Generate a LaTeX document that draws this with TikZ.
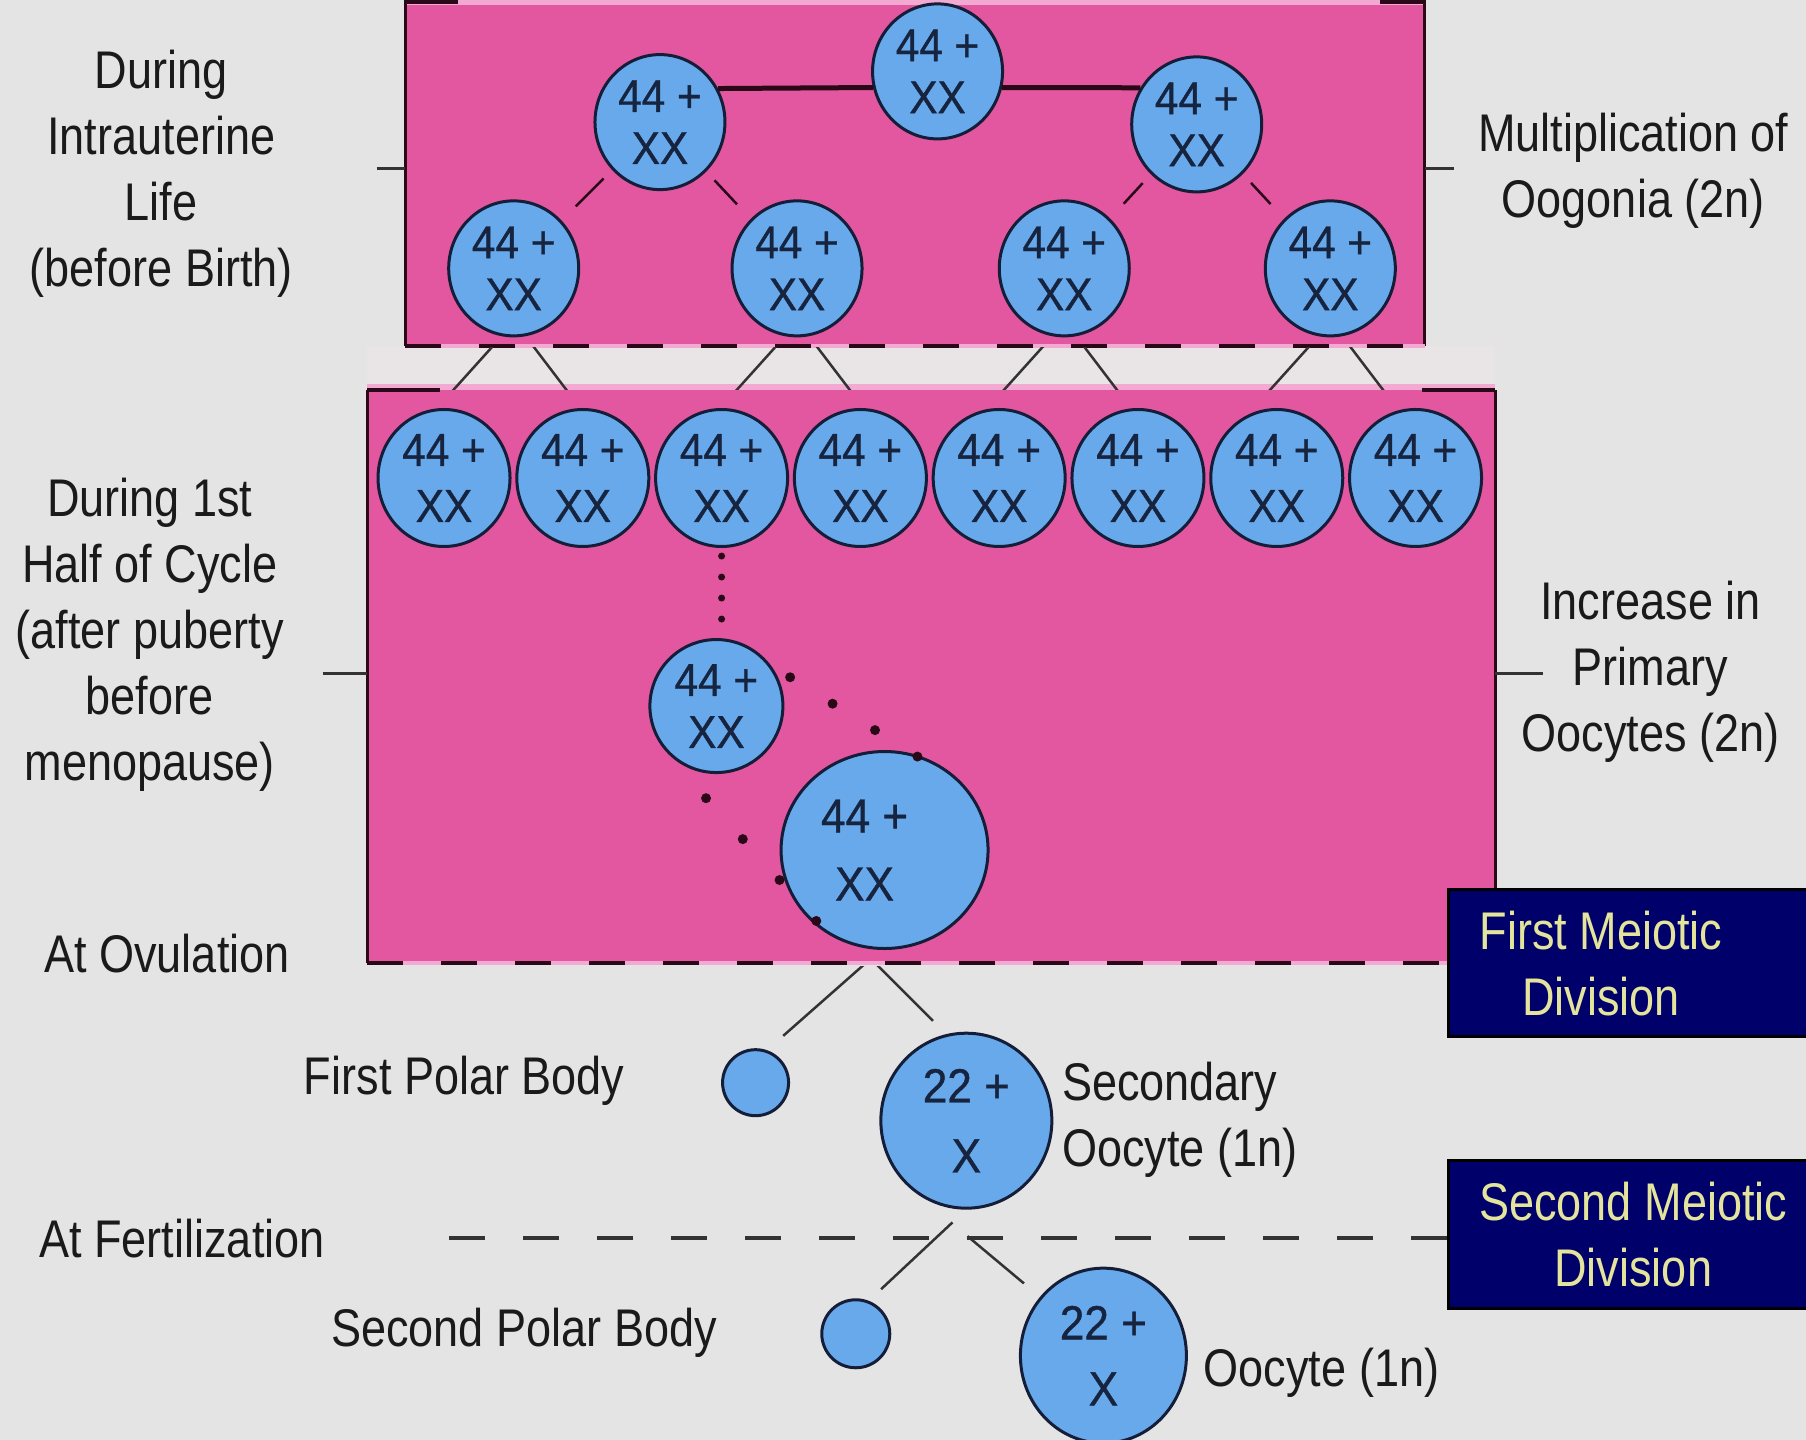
\documentclass[tikz,border=0pt]{standalone}
\usepackage{fontspec}
\setmainfont{Liberation Sans}[FakeStretch=0.85]
\newfontfamily\cellfont{Liberation Sans}[FakeBold=0.8,FakeStretch=0.92]
\usetikzlibrary{shapes.geometric,calc}
\definecolor{bgc}{HTML}{E4E4E4}
\definecolor{gapc}{HTML}{E9E5E7}
\definecolor{pinkc}{HTML}{E2579F}
\definecolor{pinklt}{HTML}{F2AAD2}
\definecolor{edgec}{HTML}{2A0818}
\definecolor{cellblue}{HTML}{68A9EC}
\definecolor{celledge}{HTML}{141E38}
\definecolor{celltext}{HTML}{16243F}
\definecolor{navyc}{HTML}{00006B}
\definecolor{yelt}{HTML}{E4E49C}
\definecolor{labeltext}{HTML}{1A1A1A}
\definecolor{linec}{HTML}{333333}
\begin{document}
\begin{tikzpicture}[x=1.1518pt,y=-1.1518pt,
  cell/.style={ellipse,draw=celledge,line width=3pt,fill=cellblue,inner sep=0pt,align=center,text=celltext,
    font=\cellfont\fontsize{46}{52}\selectfont},
  treec/.style={cell,minimum width=130pt,minimum height=135pt},
  rowc/.style={cell,minimum width=132pt,minimum height=137pt,font=\cellfont\fontsize{46}{56}\selectfont},
  lbl/.style={align=center,text=labeltext,inner sep=0pt,font=\fontsize{53}{66}\selectfont},
  navybox/.style={rectangle,draw=black,line width=3pt,fill=navyc,inner sep=0pt},
  navyt/.style={align=center,text=yelt,inner sep=0pt,font=\fontsize{53}{66}\selectfont},
  conn/.style={draw=linec,line width=2.5pt},
  connp/.style={draw=edgec,line width=2.5pt},
  tickl/.style={draw=linec,line width=3pt},
  dotsv/.style={draw=edgec,line width=7pt,line cap=round,dash pattern=on 0pt off 21pt},
  dotsg/.style={draw=edgec,line width=10pt,line cap=round}]
\useasboundingbox (0,0) rectangle (1568,1250);
\fill[bgc] (0,0) rectangle (1568,1250);
\fill[gapc] (319,300) rectangle (1298,339);

% ---- upper box (intrauterine life)
\fill[pinkc] (352,0) rectangle (1237,300);
\fill[pinklt] (352,0) rectangle (1237,4);
\draw[edgec,line width=4pt] (352,2) -- (398,2) (1198,2) -- (1237,2);
\draw[edgec,line width=3pt] (352,0) -- (352,300) (1237,0) -- (1237,300);
\draw[pinklt,line width=4pt] (352,300) -- (1237,300);
\draw[edgec,line width=4pt,dash pattern=on 36pt off 38pt] (352,300) -- (1237,300);

% ---- lower box (1st half of cycle)
\fill[pinkc] (319,339) rectangle (1298,836);
\fill[pinklt] (319,333) rectangle (1298,339);
\draw[edgec,line width=4pt] (319,339) -- (382,339) (1235,339) -- (1298,339);
\draw[edgec,line width=3pt] (319,339) -- (319,836) (1298,339) -- (1298,836);
\draw[pinklt,line width=4pt] (319,836) -- (1298,836);
\draw[edgec,line width=4pt,dash pattern=on 36pt off 38pt] (319,836) -- (1298,836);

% ---- ticks
\draw[tickl] (327,146) -- (352,146) (1237,146) -- (1262,146);
\draw[tickl] (280,585) -- (319,585) (1298,585) -- (1340,585);

% ---- oogonia tree
\node[treec] (top) at (814,62) {44 +\\XX};
\node[treec] (l2a) at (573,106) {44 +\\XX};
\node[treec] (l2b) at (1039,108) {44 +\\XX};
\node[treec] (l3a) at (446,233) {44 +\\XX};
\node[treec] (l3b) at (692,233) {44 +\\XX};
\node[treec] (l3c) at (924,233) {44 +\\XX};
\node[treec] (l3d) at (1155,233) {44 +\\XX};

\draw[connp,line width=5pt] (l2a.30) -- (top.194);
\draw[connp,line width=5pt] (top.-14) -- (l2b.147);
\draw[connp,shorten <=12pt,shorten >=20pt] (l2a) -- (l3a);
\draw[connp,shorten <=12pt,shorten >=20pt] (l2a) -- (l3b);
\draw[connp,shorten <=12pt,shorten >=20pt] (l2b) -- (l3c);
\draw[connp,shorten <=12pt,shorten >=20pt] (l2b) -- (l3d);

% ---- primary oocytes row
\foreach \i/\x in {1/385.5,2/506,3/626.5,4/747,5/867.5,6/988,7/1108.5,8/1229}
  \node[rowc] (r\i) at (\x,415) {44 +\\XX};

\begin{scope}
  \clip (300,302) rectangle (1320,338);
  \foreach \n in {l3a,l3b,l3c,l3d} {
    \draw[conn] (\n.-100) -- +(-45,50);
    \draw[conn] (\n.-80) -- +(38,50);
  }
\end{scope}

% ---- growing oocyte
\node[cell,minimum width=133pt,minimum height=133pt] (mid) at (622,613) {44 +\\XX};
\node[cell,minimum width=207pt,minimum height=197pt,font=\cellfont\fontsize{48}{68}\selectfont] (big) at (768,738)
  {44 +\hspace*{40pt}\\XX\hspace*{40pt}};
\draw[dotsv] ($(r3.south)+(0,7)$) -- ($(r3.south |- mid.north)+(0,-5)$);
\draw[dotsg,dash pattern=on 0pt off 50pt] ($(mid.center)+(64,-25)$) -- ($(big.center)+(32,-79)$);
\draw[dotsg,dash pattern=on 0pt off 55pt] ($(mid.center)+(-9,80)$) -- ($(big.center)+(-58,63)$);

% ---- ovulation
\node[cell,minimum width=66pt,minimum height=66pt] (pb1) at (656,940) {};
\node[cell,minimum width=171pt,minimum height=175pt,font=\cellfont\fontsize{48}{70}\selectfont] (so) at (839,973) {22 +\\X};
\coordinate (ov) at ($(big.south)+(-12,7.5)$);
\begin{scope}
  \clip (300,839) rectangle (1250,1000);
  \draw[conn] (ov) -- +(-76,67);
  \draw[conn] (ov) -- +(54,54);
\end{scope}

% ---- meiotic division boxes
\node[navybox,anchor=west,minimum width=400pt,minimum height=147pt] (m1) at (1256,836.5) {};
\node[navyt] (m1t) at (1390,837) {First Meiotic\\Division};
\node[navybox,anchor=west,minimum width=400pt,minimum height=148pt] (m2) at (1256,1071.5) {};
\node[navyt] (m2t) at (1418,1072) {Second Meiotic\\Division};

% ---- fertilization
\draw[draw=linec,line width=4pt,dash pattern=on 36pt off 38pt] (m2.west |- 0,1075) -- (362,1075);
\node[cell,minimum width=68pt,minimum height=68pt] (pb2) at (743,1158) {};
\node[cell,minimum width=166pt,minimum height=175pt,font=\cellfont\fontsize{48}{66}\selectfont] (oo) at (958,1177) {22 +\\X};
\coordinate (fe) at ($(so.south)+(-12,11)$);
\draw[conn] (fe) -- +(-62,58);
\draw[conn] ($(fe)+(13,12)$) -- +(49,41);

% ---- labels
\node[lbl] (lifeL) at (140,151) {During\\Intrauterine\\Life\\(before Birth)};
\node[lbl] (cycleL) at (130,551) {During 1st\\Half of Cycle\\(after puberty\\before\\menopause)};
\node[lbl] (multL) at (1418,148) {Multiplication of\\Oogonia (2n)};
\node[lbl] (incL) at (1433,583) {Increase in\\Primary\\Oocytes (2n)};
\node[lbl] (ovL) at (145,828) {At Ovulation};
\node[lbl] (feL) at (158,1075) {At Fertilization};
\node[lbl] (pb1L) at (403,938) {First Polar Body};
\node[lbl] (pb2L) at (455,1157) {Second Polar Body};
\node[lbl,align=left,anchor=west] (soL) at (922,972) {Secondary\\Oocyte (1n)};
\node[lbl,anchor=west] (ooL) at (1045,1192) {Oocyte (1n)};
\end{tikzpicture}
\end{document}
